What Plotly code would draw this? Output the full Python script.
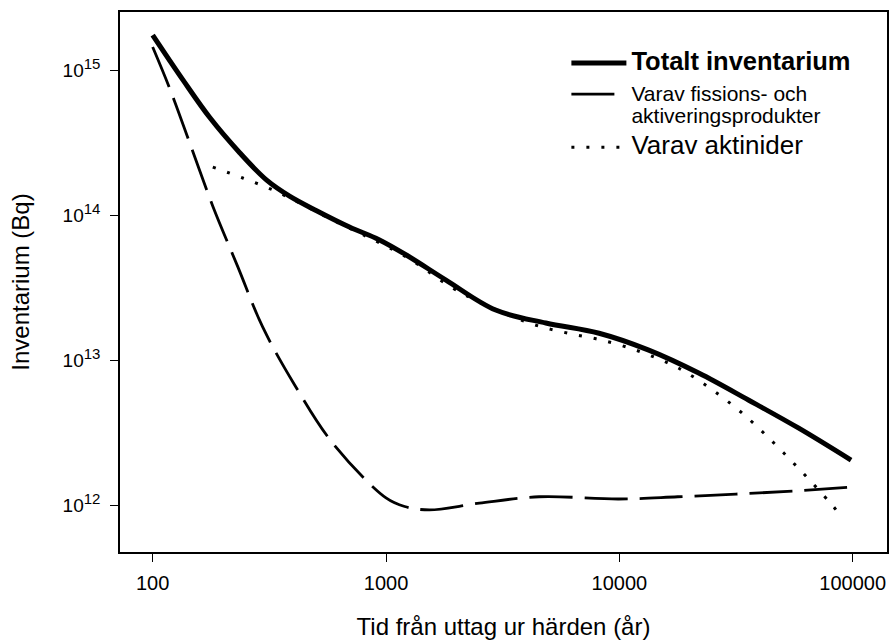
import plotly.graph_objects as go

# Data (years, Bq)
total_years = [100, 135, 176, 236, 308, 386, 504, 697, 933, 1222, 1807, 2951, 4842, 8185, 13366, 21878, 35727, 58479, 98401]
total_bq = [1.74e15, 8.51e14, 4.68e14, 2.69e14, 1.74e14, 1.35e14, 1.07e14, 8.26e13, 6.76e13, 5.30e13, 3.56e13, 2.21e13, 1.80e13, 1.53e13, 1.17e13, 8.13e12, 5.30e12, 3.40e12, 2.04e12]

fission_years = [100, 119, 147, 181, 232, 296, 406, 590, 1000, 1202, 1535, 2512, 4529, 9954, 17783, 31623, 56624, 98401]
fission_bq = [1.44e15, 7.28e14, 2.88e14, 1.15e14, 4.37e13, 1.69e13, 6.73e12, 2.68e12, 1.12e12, 9.77e11, 9.25e11, 1.03e12, 1.14e12, 1.10e12, 1.14e12, 1.19e12, 1.25e12, 1.33e12]

actinide_years = [181, 243, 327, 435, 583, 794, 1222, 1905, 2553, 3436, 4529, 6026, 7943, 10715, 14454, 19231, 34356, 80353, 90157]
actinide_bq = [2.14e14, 1.80e14, 1.49e14, 1.19e14, 9.33e13, 7.33e13, 5.13e13, 3.18e13, 2.47e13, 2.01e13, 1.71e13, 1.53e13, 1.40e13, 1.23e13, 1.03e13, 8.26e12, 4.17e12, 1.03e12, 8.13e11]

x_tick_vals = [100, 1000, 10000, 100000]
x_tick_text = ["100", "1000", "10000", "100000"]
y_tick_vals = [1e12, 1e13, 1e14, 1e15]
y_tick_exponents = ["12", "13", "14", "15"]
y_tick_text = ["10<sup><span style='font-size:15px'>%s</span></sup>" % e for e in y_tick_exponents]

FONT = "Liberation Sans, Arial, sans-serif"

fig = go.Figure()
fig.add_trace(go.Scatter(
    x=total_years, y=total_bq, mode="lines", line_shape="spline", legendgroup="a",
    line=dict(color="black", width=5),
    name="<b><span style='font-size:25.5px'>Totalt inventarium</span></b>"))
fig.add_trace(go.Scatter(
    x=fission_years, y=fission_bq, mode="lines", line_shape="spline", legendgroup="b",
    line=dict(color="black", width=2.8, dash="43px,12px"),
    name="<span style='font-size:21px'>Varav fissions- och</span><br><span style='font-size:21px'>aktiveringsprodukter</span>"))
fig.add_trace(go.Scatter(
    x=actinide_years, y=actinide_bq, mode="lines", line_shape="spline", legendgroup="c",
    line=dict(color="black", width=3, dash="3px,12px"),
    name="<span style='font-size:26px'>Varav aktinider</span>"))

axis_common = dict(
    type="log", showgrid=False, zeroline=False, showline=True, mirror=True,
    linecolor="black", linewidth=1.5, ticks="outside", ticklen=8,
    tickcolor="black", tickwidth=1.2, automargin=False,
)
fig.update_xaxes(
    **axis_common, range=[1.86, 5.147], tickvals=x_tick_vals, ticktext=x_tick_text,
    ticklabelstandoff=4,
    tickfont=dict(family=FONT, size=20, color="black"),
    title=dict(text="Tid från uttag ur härden (år)", standoff=25,
               font=dict(family=FONT, size=24, color="black")))
fig.update_yaxes(
    **axis_common, range=[11.676, 15.4], tickvals=y_tick_vals, ticktext=y_tick_text,
    ticklabelstandoff=6,
    tickfont=dict(family=FONT, size=19, color="black"),
    title=dict(text="Inventarium (Bq)", standoff=26,
               font=dict(family=FONT, size=24, color="black")))

fig.update_layout(
    width=889, height=641,
    margin=dict(l=120, r=2, t=12, b=89),
    paper_bgcolor="white", plot_bgcolor="white",
    font=dict(family=FONT, color="black"),
    showlegend=True,
    legend=dict(x=0.582, y=0.938, xanchor="left", yanchor="top",
                font=dict(family=FONT, size=17, color="black"),
                bgcolor="rgba(0,0,0,0)", valign="top", itemwidth=55,
                tracegroupgap=6),
)

fig.write_html("out.html", config={"displayModeBar": False},
               post_script="document.body.style.margin='0';document.body.style.overflow='hidden';")
